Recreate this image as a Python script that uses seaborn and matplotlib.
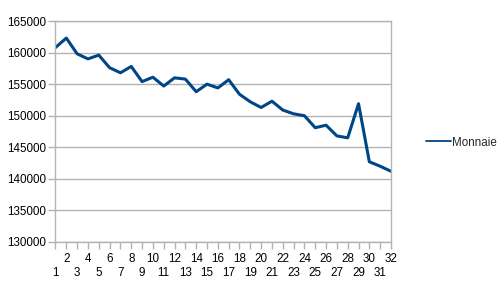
import matplotlib
matplotlib.use("Agg")
import matplotlib.pyplot as plt
import seaborn as sns
import pandas as pd

days = list(range(1, 33))
monnaie = [160800, 162300, 159800, 159000, 159600, 157600, 156800, 157800,
           155400, 156100, 154700, 156000, 155800, 153800, 155000, 154400,
           155700, 153400, 152200, 151300, 152300, 150900, 150300, 150000,
           148100, 148500, 146800, 146500, 151900, 142700, 142000, 141200]
y_ticks = [130000, 135000, 140000, 145000, 150000, 155000, 160000, 165000]
series_name = "Monnaie"

df = pd.DataFrame({"x": days, "y": monnaie, "s": series_name})

sns.set_style("white")
plt.rcParams["font.family"] = ["Liberation Sans", "DejaVu Sans"]

fig = plt.figure(figsize=(5.02, 2.86), dpi=100)
ax = fig.add_axes([55.5 / 502, 1 - 242 / 286, (391 - 55.5) / 502, (242 - 21) / 286])

sns.lineplot(data=df, x="x", y="y", hue="s", palette=["#004586"], linewidth=2.2, ax=ax)

ax.set_xlim(1, 32)
ax.set_ylim(130000, 165000)
ax.set_yticks(y_ticks)
ax.set_yticklabels([str(v) for v in y_ticks], fontsize=8.4)
ax.yaxis.grid(True, color="#b3b3b3", linewidth=1)
ax.xaxis.grid(False)

odd = [d for d in days if d % 2 == 1]
even = [d for d in days if d % 2 == 0]
ax.set_xticks(odd)
ax.set_xticklabels([str(d) for d in odd], fontsize=8.4)
ax.set_xticks(even, minor=True)
ax.set_xticklabels([str(d) for d in even], minor=True, fontsize=8.4)
ax.tick_params(axis="x", which="major", length=5, width=1, color="#b3b3b3", pad=13, labelcolor="black")
ax.tick_params(axis="x", which="minor", length=5, width=1, color="#b3b3b3", pad=3, labelcolor="black")
ax.tick_params(axis="y", length=5, width=1, color="#b3b3b3", pad=2, labelcolor="black", left=True)
ax.tick_params(axis="x", bottom=True, which="both")

for sp in ax.spines.values():
    sp.set_color("#b3b3b3")
    sp.set_linewidth(1)

ax.set_xlabel("")
ax.set_ylabel("")
leg = ax.legend(loc="center left", bbox_to_anchor=(1.09, 0.45), frameon=False, fontsize=8.4,
                handlelength=2.15, handletextpad=0.05, borderaxespad=0)
for ln in leg.get_lines():
    ln.set_linewidth(1.3)

fig.savefig("out.png", dpi=100)
